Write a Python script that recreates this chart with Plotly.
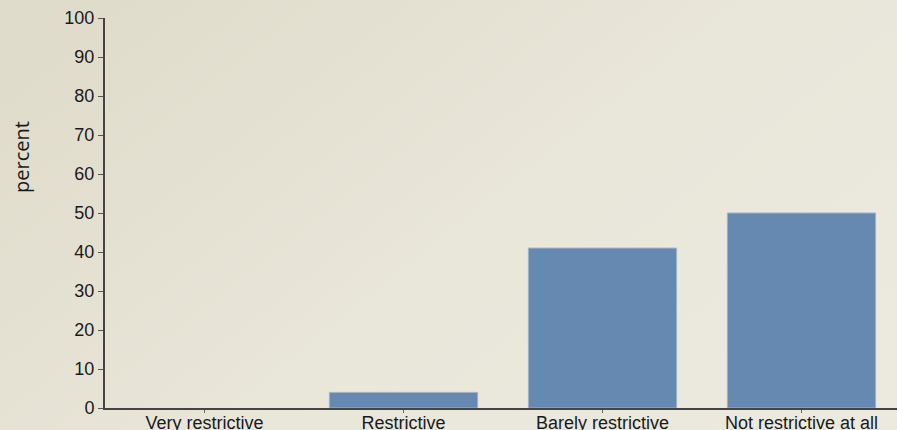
import plotly.graph_objects as go

categories = ["Very restrictive", "Restrictive", "Barely restrictive", "Not restrictive at all"]
values = [0, 4, 41, 50]
y_ticks = [0, 10, 20, 30, 40, 50, 60, 70, 80, 90, 100]

bg_svg = (
    "data:image/svg+xml;utf8,"
    "<svg xmlns='http://www.w3.org/2000/svg' width='897' height='430' preserveAspectRatio='none'>"
    "<defs><linearGradient id='g' x1='0' y1='0.2' x2='1' y2='0.8'>"
    "<stop offset='0' stop-color='%23e0dccb'/>"
    "<stop offset='0.55' stop-color='%23e9e6da'/>"
    "<stop offset='1' stop-color='%23ece9df'/>"
    "</linearGradient></defs>"
    "<rect width='897' height='430' fill='url(%23g)'/></svg>"
)

fig = go.Figure()
fig.add_trace(go.Bar(
    x=categories,
    y=values,
    marker=dict(color="#6589b0",
                line=dict(color="#9fb3c9", width=[0 if v == 0 else 1 for v in values])),
    width=0.745,
    hoverinfo="x+y",
))

L, T, W, H = 105, 18, 792, 390
fig.update_layout(
    width=897, height=430,
    margin=dict(l=L, r=0, t=T, b=430 - T - H, pad=0),
    paper_bgcolor="#e6e3d6",
    plot_bgcolor="rgba(0,0,0,0)",
    showlegend=False,
    font=dict(family="Liberation Sans, Arial, sans-serif", color="#1a1a1a", size=18),
    images=[dict(
        source=bg_svg, xref="paper", yref="paper",
        x=-L / W, y=(T + H) / H, sizex=897 / W, sizey=430 / H,
        sizing="stretch", layer="below", xanchor="left", yanchor="top",
    )],
    xaxis=dict(
        range=[-0.5, 3.48],
        automargin=False,
        showline=True, linecolor="#444444", linewidth=2,
        ticks="outside", ticklen=3, tickcolor="#666666", tickwidth=1,
        ticklabelstandoff=-6,
        showgrid=False, zeroline=False,
        tickfont=dict(size=18, color="#1a1a1a"),
        fixedrange=True,
    ),
    yaxis=dict(
        range=[0, 100],
        automargin=False,
        tickvals=y_ticks,
        showline=True, linecolor="#444444", linewidth=2,
        ticks="outside", ticklen=5, tickcolor="#555555", tickwidth=1,
        showgrid=False, zeroline=False,
        tickfont=dict(size=18, color="#1a1a1a"),
        fixedrange=True,
    ),
    annotations=[dict(
        text="percent", xref="paper", yref="paper",
        x=(22 - L) / W, y=(T + H - 157) / H,
        xanchor="center", yanchor="middle", textangle=-90, showarrow=False,
        font=dict(family="Open Sans, Noto Sans, sans-serif", size=20, color="#1a1a1a"),
    )],
)

fig.write_html("out.html")
